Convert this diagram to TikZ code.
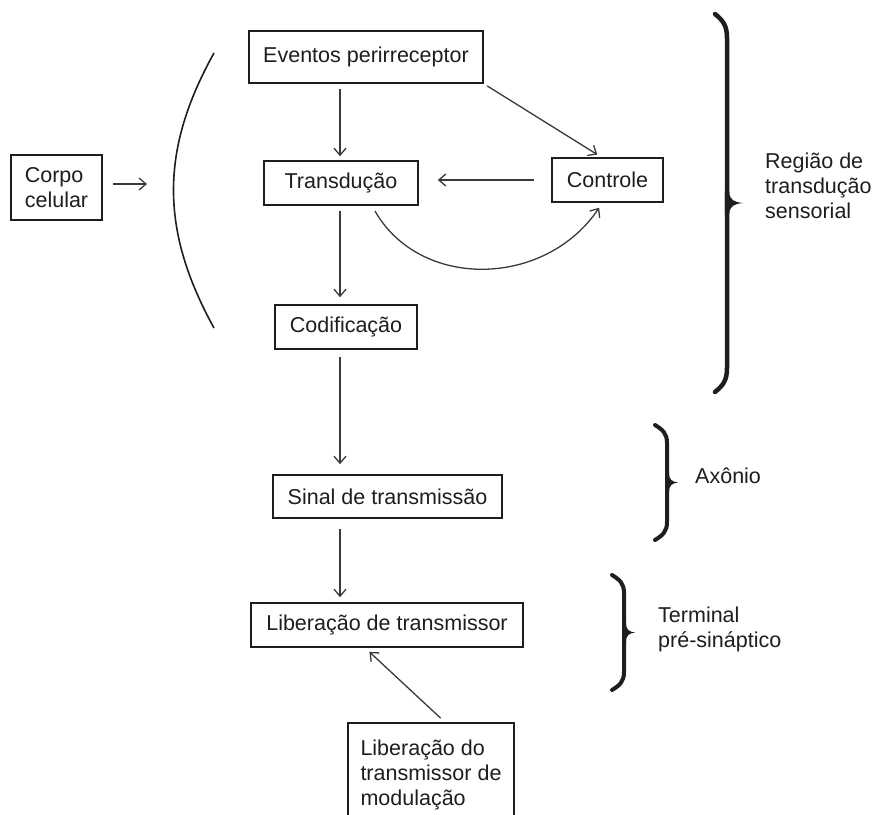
\documentclass[tikz,border=0pt]{standalone}
\usepackage{fontspec}
\setmainfont{Liberation Sans}
\usetikzlibrary{arrows.meta}
\definecolor{ink}{HTML}{1E1E1E}
\definecolor{wire}{HTML}{3A3A3A}

% curly brace opening to the left:
% height, width, stroke thickness, hook length, column offset, spike half-height
\tikzset{pics/curly/.style n args={6}{code={
  \pgfmathsetmacro\bh{#1}\pgfmathsetmacro\bw{#2}%
  \pgfmathsetmacro\bt{#3}\pgfmathsetmacro\ba{#4}%
  \pgfmathsetmacro\bm{#5}\pgfmathsetmacro\bs{#6}%
  \pgfmathsetmacro\hh{\bh/2}%
  \pgfmathsetmacro\bo{\bm+\bt/2}%
  \pgfmathsetmacro\bi{\bm-\bt/2}%
  \pgfmathsetmacro\bq{\bm+0.45*(\bw-\bm)}%
  \draw[ink, line width=\bt pt, line cap=round]
    (0,0) .. controls (0.65*\bm,0.8*\ba) and (\bm,1.4*\ba) .. (\bm,3*\ba)
    -- (\bm,\bh-3*\ba)
    .. controls (\bm,\bh-1.4*\ba) and (0.65*\bm,\bh-0.8*\ba) .. (0,\bh);
  \fill[ink] (\bi,\hh-1.4*\bs) -- (\bo,\hh-1.4*\bs)
    .. controls (\bo,\hh-0.4*\bs) and (\bq,\hh-0.1*\bs) .. (\bw,\hh)
    .. controls (\bq,\hh+0.1*\bs) and (\bo,\hh+0.4*\bs) .. (\bo,\hh+1.4*\bs)
    -- (\bi,\hh+1.4*\bs) -- cycle;
}}}

\begin{document}
\begin{tikzpicture}[x=1pt,y=-1pt,
  every node/.style={font=\fontsize{21.5}{25}\selectfont, text=ink},
  stepbox/.style={draw=ink, line width=1.6pt, inner sep=0pt, align=center},
  sidetext/.style={inner sep=0pt, anchor=base west, align=left},
  arr/.style={draw=wire, line width=1.3pt, -{Straight Barb[length=7pt,width=12pt]}},
]
\useasboundingbox (0,0) rectangle (875,814);
\fill[white] (0,0) rectangle (875,814);
\clip (0,0) rectangle (875,814);

% processing steps
\node[stepbox, minimum width=234, minimum height=52] (ev) at (366,57) {Eventos perirreceptor};
\node[stepbox, minimum width=154, minimum height=44] (tr) at (341,183) {Transdução};
\node[stepbox, minimum width=111, minimum height=44] (ct) at (607.5,180) {Controle};
\node[stepbox, minimum width=142, minimum height=44] (co) at (346,327) {Codificação};
\node[stepbox, minimum width=229, minimum height=43] (si) at (387.5,496.5) {Sinal de transmissão};
\node[stepbox, minimum width=272, minimum height=44] (lb) at (387,625) {Liberação de transmissor};
\node[stepbox, align=left, minimum width=91, minimum height=65] (cc) at (56.5,187.5) {Corpo\\celular};
\node[stepbox, align=left, minimum width=166, minimum height=104] (md) at (431,775) {Liberação do\\transmissor de\\modulação};

% cell body outline
\draw[ink, line width=1.6pt] (214,53) .. controls (160,150) and (160,230) .. (214,328);
\coordinate (pv) at (172,184);

% main column of arrows
\coordinate (spine) at (340,0);
\draw[arr, shorten <=5pt, shorten >=4pt] (ev.south -| spine) -- (tr.north -| spine);
\draw[arr, shorten <=5pt, shorten >=7pt] (tr.south -| spine) -- (co.north -| spine);
\draw[arr, shorten <=7pt, shorten >=10pt] (co.south -| spine) -- (si.north -| spine);
\draw[arr, shorten <=10pt, shorten >=5pt] (si.south -| spine) -- (lb.north -| spine);

% control loop
\draw[arr, shorten <=17pt, shorten >=19pt] (ct.west) -- (ct.west -| tr.east);
\draw[arr, shorten <=4pt, shorten >=5pt] (ev.south east) -- ([xshift=-6pt]ct.north);
\draw[arr, shorten <=6pt, shorten >=6pt] ([xshift=31pt]tr.south) .. controls (420,290) and (545,288) .. ([xshift=-5pt]ct.south);

% side inputs
\draw[arr, shorten <=10pt, shorten >=25pt] (cc.east |- pv) -- (pv);
\draw[arr, shorten <=6pt, shorten >=6pt] ([xshift=14pt]md.north) -- ([xshift=-22pt]lb.south);

% regions
\pic at (715,14) {curly={378}{28}{4.5}{8}{12}{8}};
\pic at (655,425) {curly={115}{23}{4}{6}{12}{7}};
\pic at (612,575) {curly={115}{23}{4}{6}{12}{7}};
\node[sidetext] (rg) at (765,218) {Região de\\transdução\\sensorial};
\node[sidetext] (ax) at (695,483) {Axônio};
\node[sidetext] (tm) at (658,647) {Terminal\\pré-sináptico};
\end{tikzpicture}
\end{document}
